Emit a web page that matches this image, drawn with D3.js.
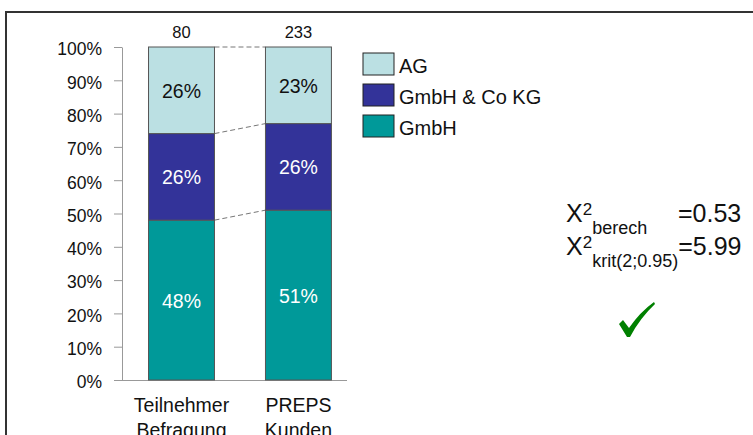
<!DOCTYPE html>
<html>
<head>
<meta charset="utf-8">
<script src="https://cdn.jsdelivr.net/npm/d3@7"></script>
<style>
  html, body { margin: 0; padding: 0; background: #fff; }
  svg { display: block; font-family: "Liberation Sans", Arial, sans-serif; }
</style>
</head>
<body>
<svg id="chart" width="753" height="435"></svg>
<script>
// Legal form share per sample group
const categories = ["Teilnehmer Befragung", "PREPS Kunden"];
const sampleSizes = [80, 233];
const seriesNames = ["GmbH", "GmbH & Co KG", "AG"];
const gmbh = [48, 51];
const gmbhCoKg = [26, 26];
const ag = [26, 23];
const yTicks = [0, 10, 20, 30, 40, 50, 60, 70, 80, 90, 100];
const colors = { "GmbH": "#009999", "GmbH & Co KG": "#333399", "AG": "#bbe0e3" };
const labelColors = { "GmbH": "#fff", "GmbH & Co KG": "#fff", "AG": "#111" };
const chiStats = [
  { sub: "berech", value: "=0.53" },
  { sub: "krit(2;0.95)", value: "=5.99" }
];

const FONT = "Liberation Sans, Arial, sans-serif";
const svg = d3.select("#chart");

// outer frame (open to the right and bottom)
svg.append("path")
  .attr("d", "M6,440 L6,12 L760,12")
  .attr("fill", "none").attr("stroke", "#333").attr("stroke-width", 2);

const y = d3.scaleLinear().domain([0, 100]).range([380, 47]);
const x = d3.scaleBand().domain(categories).range([122, 347])
  .paddingInner(0.436).paddingOuter(0.18).align(0.63);

const rows = categories.map((c, i) => ({ cat: c, "GmbH": gmbh[i], "GmbH & Co KG": gmbhCoKg[i], "AG": ag[i] }));
const stacked = d3.stack().keys(seriesNames)(rows);

// y axis
const yAxis = svg.append("g").attr("transform", "translate(122,0)")
  .call(d3.axisLeft(y).tickValues(yTicks).tickFormat(d => d + "%").tickSize(8).tickSizeOuter(0));
yAxis.select(".domain").attr("stroke", "#999");
yAxis.selectAll(".tick line").attr("stroke", "#999");
yAxis.selectAll(".tick text").attr("font-size", 17.5).attr("fill", "#111")
  .attr("x", -20).attr("dy", "0.45em").attr("font-family", FONT);

// x axis
const xAxis = svg.append("g").attr("transform", "translate(0,380)")
  .call(d3.axisBottom(x).tickSize(0).tickSizeOuter(0).tickFormat(""));
xAxis.select(".domain").attr("stroke", "#999").attr("d", "M117,0.5H347");

// category labels on two lines
categories.forEach(c => {
  const t = svg.append("text").attr("text-anchor", "middle").attr("font-size", 19.5).attr("fill", "#111");
  c.split(" ").forEach((w, k) => {
    t.append("tspan").attr("x", x(c) + x.bandwidth() / 2).attr("y", 412 + k * 25).text(w);
  });
});

// dashed connectors between the stacked segments
const [c0, c1] = categories;
stacked.forEach(layer => {
  svg.append("line")
    .attr("x1", x(c0) + x.bandwidth()).attr("y1", y(layer[0][1]))
    .attr("x2", x(c1)).attr("y2", y(layer[1][1]))
    .attr("stroke", "#777").attr("stroke-width", 1).attr("stroke-dasharray", "5,3");
});

// bars
const layers = svg.selectAll("g.layer").data(stacked).join("g").attr("class", "layer");
layers.selectAll("rect").data(d => d.map(p => ({ key: d.key, p }))).join("rect")
  .attr("x", d => x(d.p.data.cat))
  .attr("y", d => y(d.p[1]))
  .attr("width", x.bandwidth())
  .attr("height", d => y(d.p[0]) - y(d.p[1]))
  .attr("fill", d => colors[d.key])
  .attr("stroke", "#555").attr("stroke-width", 1);

layers.selectAll("text").data(d => d.map(p => ({ key: d.key, p }))).join("text")
  .attr("x", d => x(d.p.data.cat) + x.bandwidth() / 2)
  .attr("y", d => (y(d.p[0]) + y(d.p[1])) / 2 + 7.5)
  .attr("text-anchor", "middle").attr("font-size", 19.5)
  .attr("fill", d => labelColors[d.key])
  .text(d => (d.p[1] - d.p[0]) + "%");

// sample sizes
svg.selectAll("text.n").data(categories).join("text").attr("class", "n")
  .attr("x", d => x(d) + x.bandwidth() / 2).attr("y", 38)
  .attr("text-anchor", "middle").attr("font-size", 16.5).attr("fill", "#111")
  .text((d, i) => sampleSizes[i]);

// legend
const legendOrder = ["AG", "GmbH & Co KG", "GmbH"];
const lg = svg.append("g").attr("transform", "translate(363,53)");
legendOrder.forEach((k, i) => {
  lg.append("rect").attr("x", 0).attr("y", i * 31).attr("width", 31).attr("height", 22)
    .attr("fill", colors[k]).attr("stroke", "#222").attr("stroke-width", 1);
  lg.append("text").attr("x", 36).attr("y", i * 31 + 20).attr("font-size", 20).attr("fill", "#111").text(k);
});

// chi-square statistics
chiStats.forEach((s, i) => {
  const by = 222 + i * 33;
  const t = svg.append("text").attr("x", 566).attr("y", by).attr("font-size", 25).attr("fill", "#111");
  t.append("tspan").text("X");
  t.append("tspan").attr("font-size", 17).attr("dy", -7).text("2");
  t.append("tspan").attr("font-size", 18).attr("dy", 19).attr("dx", 0).text(s.sub);
  const vt = t.append("tspan").attr("dy", -12).text(s.value);
  if (i === 0) vt.attr("x", 678);
});

// check mark
svg.append("path")
  .attr("d", "M619,324 L623,320 L629,328 Q640,312 654,302 L655,304 Q640,318 630,337 L627,337 Z")
  .attr("fill", "#008000");
</script>
</body>
</html>
